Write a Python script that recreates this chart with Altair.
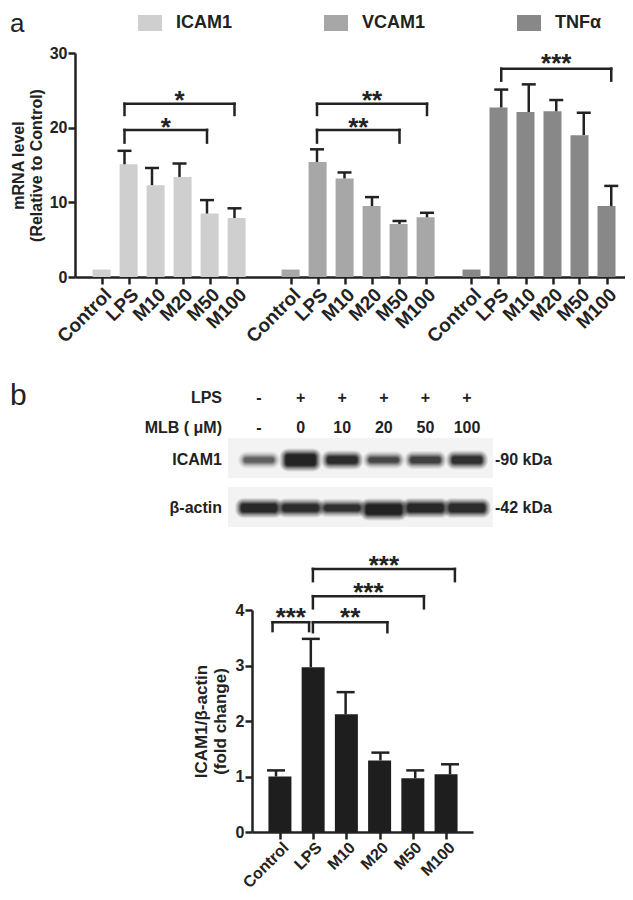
import altair as alt
import pandas as pd

# ============================ data ============================
CATEGORIES = ["Control", "LPS", "M10", "M20", "M50", "M100"]
GENES = ["ICAM1", "VCAM1", "TNFα"]

# panel a: mRNA level (relative to control), bar mean and top of error bar
ICAM_MEAN = [1.0, 15.1, 12.3, 13.4, 8.5, 7.9]
ICAM_UPPER = [None, 16.9, 14.6, 15.2, 10.3, 9.2]
VCAM_MEAN = [1.0, 15.4, 13.2, 9.5, 7.1, 8.0]
VCAM_UPPER = [None, 17.1, 14.0, 10.7, 7.5, 8.6]
TNF_MEAN = [1.0, 22.7, 22.1, 22.2, 19.0, 9.5]
TNF_UPPER = [None, 25.1, 25.8, 23.7, 22.0, 12.2]

# panel a: significance brackets
A_BR_GENE = ["ICAM1", "ICAM1", "VCAM1", "VCAM1", "TNFα"]
A_BR_FROM = ["LPS", "LPS", "LPS", "LPS", "LPS"]
A_BR_TO = ["M50", "M100", "M50", "M100", "M100"]
A_BR_LEVEL = [19.7, 23.2, 19.7, 23.2, 27.9]
A_BR_TIP = [18.0, 21.7, 18.0, 21.7, 26.3]
A_BR_STAR = [20.9, 24.5, 20.9, 24.5, 29.5]
A_BR_LABEL = ["*", "*", "**", "**", "***"]

# panel b: ICAM1/beta-actin fold change
WB_MEAN = [1.0, 2.97, 2.12, 1.29, 0.97, 1.04]
WB_UPPER = [1.11, 3.48, 2.52, 1.43, 1.11, 1.22]

# panel b: significance brackets (ends in category units)
B_BR_FROM = [-0.1, 1.06, 1.06, 1.06]
B_BR_TO = [0.95, 3.2, 4.25, 5.14]
B_BR_LEVEL = [3.78, 3.78, 4.25, 4.74]
B_BR_TIP = [3.62, 3.6, 4.03, 4.52]
B_BR_STAR = [3.98, 3.98, 4.44, 4.92]
B_BR_LABEL = ["***", "**", "***", "***"]

# western blot
BLOT_LPS = ["-", "+", "+", "+", "+", "+"]
BLOT_MLB = ["-", "0", "10", "20", "50", "100"]
ICAM_BAND_DARK = [0.5, 1.0, 0.9, 0.65, 0.7, 0.85]
ICAM_BAND_THICK = [9, 15, 11, 9, 10, 11]
ACTIN_BAND_DARK = [0.95, 0.9, 0.85, 1.0, 0.95, 0.92]
ACTIN_BAND_THICK = [12, 11, 10, 14, 12, 12]

# ============================ layout ============================
W, H = 617, 884
FONT = "Liberation Sans"
INK = "#222222"
GENE_COLORS = ["#cfcfcf", "#a7a7a7", "#888888"]
WB_COLOR = "#1e1e1e"
GROUP_OFFSET = {"ICAM1": 0.0, "VCAM1": 7.0, "TNFα": 13.7}

A_X_DOMAIN, A_X_RANGE = [-0.8, 19.2], [67, 617]
A_Y_DOMAIN, A_Y_RANGE = [0, 30], [269, 45]
B_X_DOMAIN, B_X_RANGE = [-0.69, 5.66], [244, 465]
B_Y_DOMAIN, B_Y_RANGE = [0, 4], [824, 602]
LANE_DOMAIN, LANE_RANGE = [0, 5], [251, 459]
BLOT_Y_DOMAIN, BLOT_Y_RANGE = [0, 89], [430, 519]
LANE_PX = (LANE_RANGE[1] - LANE_RANGE[0]) / (LANE_DOMAIN[1] - LANE_DOMAIN[0])

ROW_ICAM = {"top": 0, "bottom": 40, "center": 22, "half_w": 0.36}
ROW_ACTIN = {"top": 49, "bottom": 89, "center": 70, "half_w": 0.43}
HEADER_Y = {"LPS": -40, "MLB": -10}
BLOT_X = [-0.745, 5.625]


def scale(domain, rng):
    return alt.Scale(domain=domain, range=rng, nice=False, zero=False)


def ax(f, axis=None):
    return alt.X(f, type="quantitative", scale=scale(A_X_DOMAIN, A_X_RANGE), axis=axis)


def ay(f, axis=None):
    return alt.Y(f, type="quantitative", scale=scale(A_Y_DOMAIN, A_Y_RANGE), axis=axis)


def bx(f, axis=None):
    return alt.X(f, type="quantitative", scale=scale(B_X_DOMAIN, B_X_RANGE), axis=axis)


def by(f, axis=None):
    return alt.Y(f, type="quantitative", scale=scale(B_Y_DOMAIN, B_Y_RANGE), axis=axis)


def lx(f):
    return alt.X(f, type="quantitative", scale=scale(LANE_DOMAIN, LANE_RANGE), axis=None)


def ly(f):
    return alt.Y(f, type="quantitative", scale=scale(BLOT_Y_DOMAIN, BLOT_Y_RANGE), axis=None)


names_js = "[" + ",".join("'%s'" % c for c in CATEGORIES) + "]"

# ============================ panel a ============================
a_rows = []
for gene, means, uppers in zip(GENES, [ICAM_MEAN, VCAM_MEAN, TNF_MEAN], [ICAM_UPPER, VCAM_UPPER, TNF_UPPER]):
    for i, (cat, m, u) in enumerate(zip(CATEGORIES, means, uppers)):
        a_rows.append({"gene": gene, "cat": cat, "pos": GROUP_OFFSET[gene] + i, "mean": m, "upper": u})
a_df = pd.DataFrame(a_rows)

offs = sorted(GROUP_OFFSET.values())
idx_expr = "datum.value >= %g ? datum.value - %g : (datum.value >= %g ? datum.value - %g : datum.value - %g)" % (
    offs[2] - 0.5, offs[2], offs[1] - 0.5, offs[1], offs[0])
a_label_expr = "%s[round(%s)]" % (names_js, idx_expr)

a_x_axis = alt.Axis(orient="bottom", offset=A_Y_RANGE[0] - H, values=[float(v) for v in a_df["pos"]],
                    labelExpr=a_label_expr, labelAngle=315, labelAlign="right", labelBaseline="top",
                    labelFontSize=19, labelFontWeight="bold", labelPadding=1, tickSize=7, title=None)
a_y_axis = alt.Axis(orient="left", offset=-A_X_RANGE[0], values=[0, 10, 20, 30], labelFontSize=16,
                    labelFontWeight="bold", labelPadding=1, tickSize=7,
                    title=["mRNA level", "(Relative to Control)"], titleFontSize=16, titleFontWeight="bold",
                    titlePadding=5, titleLineHeight=18)

legend = alt.Legend(orient="none", legendX=133, legendY=6, direction="horizontal", columns=3,
                    columnPadding=91, symbolType="M-1.5,-1H1.5V1H-1.5Z", symbolSize=256, symbolStrokeWidth=0,
                    labelFontSize=18, labelFontWeight="bold", labelColor=INK, labelFont=FONT, labelOffset=17,
                    title=None)

bars_a = alt.Chart(a_df).mark_bar(size=18).encode(
    x=ax("pos", a_x_axis), y=ay("mean", a_y_axis),
    color=alt.Color("gene:N", scale=alt.Scale(domain=GENES, range=GENE_COLORS), legend=legend))
errv_a = alt.Chart(a_df).transform_filter("isValid(datum.upper)").mark_rule(color=INK, strokeWidth=2.5).encode(
    x=ax("pos"), y=ay("mean"), y2="upper:Q")
errc_a = alt.Chart(a_df).transform_filter("isValid(datum.upper)").mark_rule(
    color=INK, strokeWidth=2.5, xOffset=-7, x2Offset=7).encode(x=ax("pos"), x2="pos:Q", y=ay("upper"))

a_br_df = pd.DataFrame({
    "x1": [GROUP_OFFSET[g] + CATEGORIES.index(f) for g, f in zip(A_BR_GENE, A_BR_FROM)],
    "x2": [GROUP_OFFSET[g] + CATEGORIES.index(t) for g, t in zip(A_BR_GENE, A_BR_TO)],
    "level": A_BR_LEVEL, "tip": A_BR_TIP, "star": A_BR_STAR, "label": A_BR_LABEL})
rule_kw = dict(color=INK, strokeWidth=2.5, strokeCap="square")
brh_a = alt.Chart(a_br_df).mark_rule(**rule_kw).encode(x=ax("x1"), x2="x2:Q", y=ay("level"))
brl_a = alt.Chart(a_br_df).mark_rule(**rule_kw).encode(x=ax("x1"), y=ay("level"), y2="tip:Q")
brr_a = alt.Chart(a_br_df).mark_rule(**rule_kw).encode(x=ax("x2"), y=ay("level"), y2="tip:Q")
stars_a = alt.Chart(a_br_df).transform_calculate(mid="(datum.x1 + datum.x2) / 2").mark_text(
    fontSize=26, fontWeight="bold", color=INK, font=FONT, dy=7).encode(x=ax("mid"), y=ay("star"), text="label:N")

panel_a = [bars_a, errv_a, errc_a, brh_a, brl_a, brr_a, stars_a]

# ============================ panel b (bar chart) ============================
b_df = pd.DataFrame({"pos": list(range(len(CATEGORIES))), "cat": CATEGORIES, "mean": WB_MEAN, "upper": WB_UPPER})
b_x_axis = alt.Axis(orient="bottom", offset=B_Y_RANGE[0] - H, values=list(range(len(CATEGORIES))),
                    labelExpr="%s[round(datum.value)]" % names_js, labelAngle=315, labelAlign="right",
                    labelBaseline="top", labelFontSize=16, labelFontWeight="bold", labelPadding=0,
                    tickSize=7, title=None)
b_y_axis = alt.Axis(orient="left", offset=-B_X_RANGE[0], values=[0, 1, 2, 3, 4], labelFontSize=16,
                    labelFontWeight="bold", labelPadding=1, tickSize=7,
                    title=["ICAM1/β-actin", "(fold change)"], titleFontSize=17, titleFontWeight="bold",
                    titlePadding=6, titleLineHeight=19)
bars_b = alt.Chart(b_df).mark_bar(size=23, color=WB_COLOR).encode(x=bx("pos", b_x_axis), y=by("mean", b_y_axis))
errv_b = alt.Chart(b_df).mark_rule(color=INK, strokeWidth=2.5).encode(x=bx("pos"), y=by("mean"), y2="upper:Q")
errc_b = alt.Chart(b_df).mark_rule(color=INK, strokeWidth=2.5, xOffset=-9, x2Offset=9).encode(
    x=bx("pos"), x2="pos:Q", y=by("upper"))

b_br_df = pd.DataFrame({"x1": B_BR_FROM, "x2": B_BR_TO, "level": B_BR_LEVEL, "tip": B_BR_TIP,
                        "star": B_BR_STAR, "label": B_BR_LABEL})
brh_b = alt.Chart(b_br_df).mark_rule(**rule_kw).encode(x=bx("x1"), x2="x2:Q", y=by("level"))
brl_b = alt.Chart(b_br_df).mark_rule(**rule_kw).encode(x=bx("x1"), y=by("level"), y2="tip:Q")
brr_b = alt.Chart(b_br_df).mark_rule(**rule_kw).encode(x=bx("x2"), y=by("level"), y2="tip:Q")
stars_b = alt.Chart(b_br_df).transform_calculate(mid="(datum.x1 + datum.x2) / 2").mark_text(
    fontSize=26, fontWeight="bold", color=INK, font=FONT, dy=7).encode(x=bx("mid"), y=by("star"), text="label:N")

panel_b = [bars_b, errv_b, errc_b, brh_b, brl_b, brr_b, stars_b]

# ============================ western blot ============================
bg_df = pd.DataFrame({"x1": [BLOT_X[0]] * 2, "x2": [BLOT_X[1]] * 2,
                      "y1": [ROW_ICAM["top"], ROW_ACTIN["top"]], "y2": [ROW_ICAM["bottom"], ROW_ACTIN["bottom"]]})
blot_bg = alt.Chart(bg_df).mark_rect(color="#f3f3f3").encode(x=lx("x1"), x2="x2:Q", y=ly("y1"), y2="y2:Q")

band_rows = []
for i in range(len(BLOT_LPS)):
    band_rows.append({"lane": i, "center": ROW_ICAM["center"], "half_h": ICAM_BAND_THICK[i] / 2,
                      "half_w": ROW_ICAM["half_w"], "dark": ICAM_BAND_DARK[i]})
    band_rows.append({"lane": i, "center": ROW_ACTIN["center"] + (1.5 if i == 3 else 0),
                      "half_h": ACTIN_BAND_THICK[i] / 2, "half_w": ROW_ACTIN["half_w"], "dark": ACTIN_BAND_DARK[i]})
bands_df = pd.DataFrame(band_rows)

# soft edges: stacked translucent rounded rectangles (extra px in x, extra px in y, opacity factor)
blur_steps = [(6, 4, 0.1), (5, 3, 0.12), (4, 2, 0.15), (3, 1, 0.2), (2, 0, 0.3), (1, -1, 0.4), (0, -2, 0.5)]
band_layers = []
for ex, ey, f in blur_steps:
    band_layers.append(
        alt.Chart(bands_df).transform_calculate(
            bx1="datum.lane - datum.half_w - %g" % (ex / LANE_PX),
            bx2="datum.lane + datum.half_w + %g" % (ex / LANE_PX),
            by1="datum.center - datum.half_h - %g" % ey,
            by2="datum.center + datum.half_h + %g" % ey,
            op="datum.dark * %g" % f,
        ).mark_rect(color="#0a0a0a", cornerRadius=4.5 + ey).encode(
            x=lx("bx1"), x2="bx2:Q", y=ly("by1"), y2="by2:Q", opacity=alt.Opacity("op:Q", scale=None)))

hdr_rows = []
for i, (a, b) in enumerate(zip(BLOT_LPS, BLOT_MLB)):
    hdr_rows.append({"lane": i, "y": HEADER_Y["LPS"], "t": a})
    hdr_rows.append({"lane": i, "y": HEADER_Y["MLB"], "t": b})
hdr = alt.Chart(pd.DataFrame(hdr_rows)).mark_text(fontSize=16, fontWeight="bold", color=INK, font=FONT).encode(
    x=lx("lane"), y=ly("y"), text="t:N")

row_lab_df = pd.DataFrame({"t": ["LPS", "MLB ( μM)", "ICAM1", "β-actin"],
                           "y": [HEADER_Y["LPS"], HEADER_Y["MLB"], ROW_ICAM["center"], ROW_ACTIN["center"]]})
row_lab = alt.Chart(row_lab_df).mark_text(fontSize=16, fontWeight="bold", color=INK, font=FONT,
                                          align="right").encode(x=alt.value(214), y=ly("y"), text="t:N")
kda_df = pd.DataFrame({"t": ["-90 kDa", "-42 kDa"], "y": [ROW_ICAM["center"], ROW_ACTIN["center"]]})
kda = alt.Chart(kda_df).mark_text(fontSize=16, fontWeight="bold", color=INK, font=FONT, align="left").encode(
    x=alt.value(487), y=ly("y"), text="t:N")

letter_a = alt.Chart(pd.DataFrame({"t": ["a"]})).mark_text(fontSize=26, color=INK, font=FONT, align="left",
                                                            baseline="alphabetic").encode(
    x=alt.value(2), y=alt.value(24), text="t:N")
letter_b = alt.Chart(pd.DataFrame({"t": ["b"]})).mark_text(fontSize=30, color=INK, font=FONT, align="left",
                                                            baseline="alphabetic").encode(
    x=alt.value(2), y=alt.value(397), text="t:N")

blot = [blot_bg, *band_layers, hdr, row_lab, kda, letter_a, letter_b]

# ============================ assemble ============================
# every layer carries its own explicit scale, so all layers can be resolved independently
chart = alt.layer(*panel_a, *blot, *panel_b).resolve_scale(
    x="independent", y="independent"
).properties(
    width=W, height=H, padding=0, autosize=alt.AutoSizeParams(type="none")
).configure_view(stroke=None).configure_axis(
    domainColor=INK, domainWidth=2.5, tickColor=INK, tickWidth=2.5, labelColor=INK, titleColor=INK,
    labelFont=FONT, titleFont=FONT, grid=False, labelFlush=False, labelOverlap=False
)

chart.save("out.html", embed_options={"renderer": "svg", "actions": False})
